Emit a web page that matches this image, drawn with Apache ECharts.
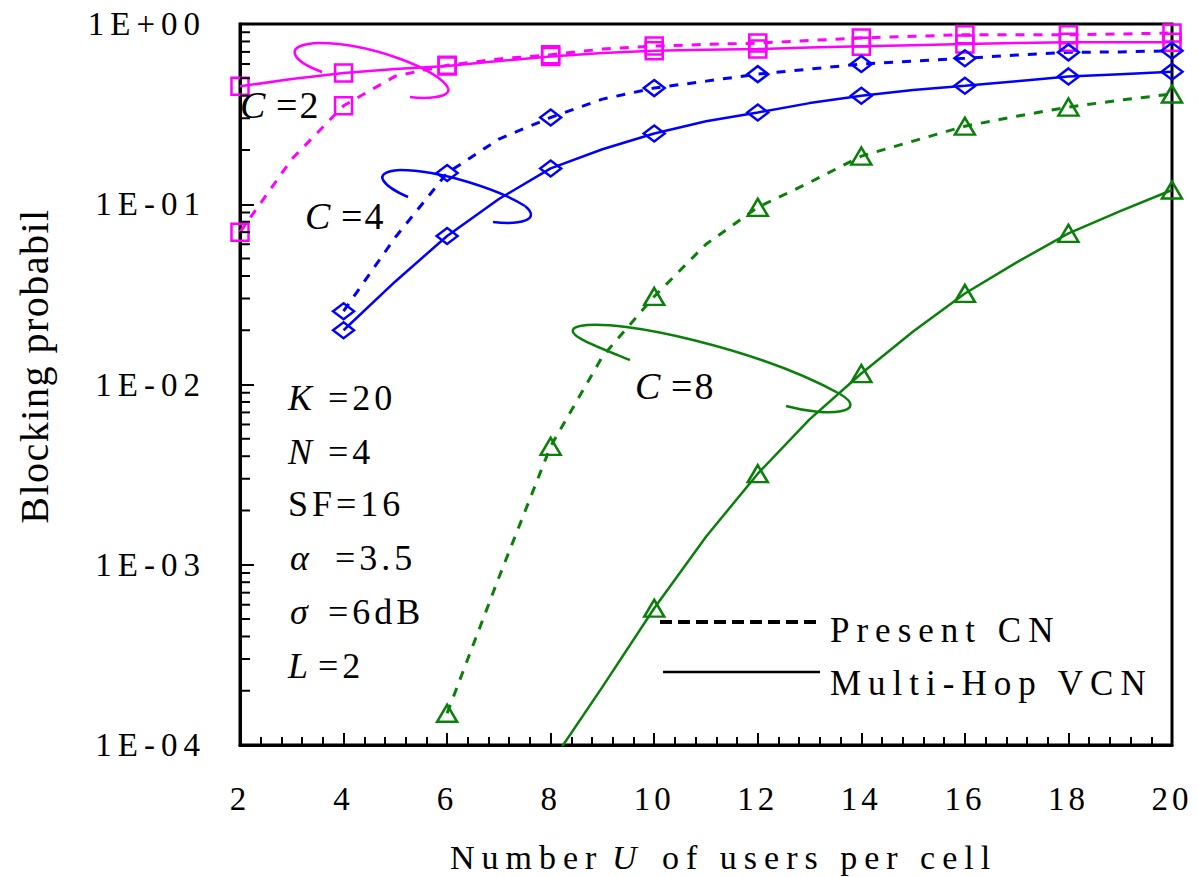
<!DOCTYPE html>
<html><head><meta charset="utf-8">
<script src="https://cdn.jsdelivr.net/npm/echarts@6/dist/echarts.min.js"></script>
<style>
html,body{margin:0;padding:0;background:#fff;}
#c{width:1198px;height:877px;}
#c text[style*="lspA"]{letter-spacing:6px;}
#c text[style*="lspB"]{letter-spacing:4px;}
#c text[style*="lspC"]{letter-spacing:7px;}
#c text[style*="lspD"]{letter-spacing:7px;}
#c text[style*="lspE"]{letter-spacing:2px;}
#c text[style*="lspF"]{letter-spacing:1.5px;}
</style>
</head><body><div id="c"></div>
<script>
// x values: number of users per cell
const users = [2,3,4,5,6,7,8,9,10,11,12,13,14,15,16,17,18,19,20];
const xTicks = [2,4,6,8,10,12,14,16,18,20];
// C = 2
const c2Present  = [0.07,0.178,0.352,0.514,0.59,0.64,0.675,0.726,0.755,0.77,0.784,0.81,0.836,0.855,0.872,0.872,0.872,0.88,0.891];
const c2MultiHop = [0.451,0.495,0.534,0.562,0.585,0.623,0.661,0.69,0.71,0.72,0.726,0.74,0.752,0.763,0.774,0.785,0.791,0.791,0.791];
// C = 4
const c4Present  = [null,null,0.0255,0.0656,0.149,0.23,0.303,0.383,0.441,0.482,0.527,0.562,0.6,0.623,0.645,0.673,0.696,0.70,0.711];
const c4MultiHop = [null,null,0.02,0.0373,0.0667,0.107,0.158,0.202,0.247,0.289,0.323,0.364,0.4,0.43,0.454,0.482,0.512,0.527,0.543];
// C = 8
const c8Present  = [null,null,null,null,1.5e-4,8.5e-4,4.54e-3,0.0143,0.0308,0.06,0.0962,0.132,0.185,0.224,0.271,0.308,0.346,0.378,0.409];
const c8MultiHop = [null,null,null,null,null,null,7.9e-5,2.1e-4,5.74e-4,1.43e-3,3.2e-3,6.4e-3,0.0115,0.0197,0.032,0.0476,0.069,0.0915,0.12];
// y axis range and minor ticks (2..9 x 10^k)
const yMin = 1e-4, yMax = 1;
const yMinorTicks = [];
for (let e = -4; e < 0; e++) for (let m = 2; m <= 9; m++) yMinorTicks.push(m * Math.pow(10, e));

const MAG = '#ff00ff', BLUE = '#0000ff', GREEN = '#0a800a';
const LS = (k) => "'Liberation Serif', " + k;

function pairs(arr){ return users.map((u,i)=>[u,arr[i]]).filter(p=>p[1]!=null); }

function mk(name, arr, color, dashed, symbol, size, lw){
  return {
    name, type:'line', data: pairs(arr), clip: true,
    symbol,
    symbolSize: (v)=> (v[0] % 2 === 0 && v[1] >= yMin) ? size : 0,
    showAllSymbol: true,
    lineStyle: {color, width: lw, type: dashed ? [9,9] : 'solid'},
    itemStyle: {color: 'rgba(0,0,0,0)', borderColor: color, borderWidth: 2.5},
    emphasis: {disabled: true},
    z: 3
  };
}
function txt(x, y, text, size, fam, italic){
  return {type:'text', x, y, style:{text, fontSize:size, fontFamily:fam, fontStyle: italic ? 'italic' : 'normal', fill:'#000', align:'left', verticalAlign:'middle'}};
}
function bez(p, color){
  // p: [x1,y1,cx1,cy1,cx2,cy2,x2,y2]
  return {type:'bezierCurve', shape:{x1:p[0], y1:p[1], cpx1:p[2], cpy1:p[3], cpx2:p[4], cpy2:p[5], x2:p[6], y2:p[7]}, style:{fill:null, stroke:color, lineWidth:2.5}};
}

const chart = echarts.init(document.getElementById('c'), null, {renderer:'svg'});
const option = {
  animation: false,
  backgroundColor: '#fff',
  grid: {left:240, right:26, top:24, bottom:132, show:true, borderColor:'#000', borderWidth:3, backgroundColor:'rgba(0,0,0,0)'},
  xAxis: {
    type:'value', min:2, max:20, interval:2,
    axisLine:{show:true, lineStyle:{color:'#000', width:3}},
    axisTick:{show:true, inside:true, length:12, lineStyle:{color:'#000', width:2}},
    minorTick:{show:true, splitNumber:5, length:8, lineStyle:{color:'#000', width:2}},
    splitLine:{show:false},
    axisLabel:{color:'#000', fontSize:33, fontFamily:LS('lspB'), margin:37,
      formatter:(v)=> xTicks.includes(v) ? String(v) : ''}
  },
  yAxis: {
    type:'log', logBase:10, min:yMin, max:yMax,
    axisLine:{show:true, lineStyle:{color:'#000', width:3}},
    axisTick:{show:true, inside:true, length:14, lineStyle:{color:'#000', width:2}},
    splitLine:{show:false},
    axisLabel:{color:'#000', fontSize:33, fontFamily:LS('lspA'), margin:34,
      formatter:(v)=>{ const e = Math.round(Math.log10(v)); return '1E' + (e<0?'-':'+') + String(Math.abs(e)).padStart(2,'0'); }}
  },
  series: [
    mk('C=2 Present CN', c2Present, MAG, true, 'rect', 17, 3),
    mk('C=2 Multi-Hop VCN', c2MultiHop, MAG, false, 'rect', 17, 2.5),
    mk('C=4 Present CN', c4Present, BLUE, true, 'diamond', [21,16], 3),
    mk('C=4 Multi-Hop VCN', c4MultiHop, BLUE, false, 'diamond', [21,16], 2.5),
    mk('C=8 Present CN', c8Present, GREEN, true, 'triangle', [20,17], 3),
    mk('C=8 Multi-Hop VCN', c8MultiHop, GREEN, false, 'triangle', [20,17], 2.5),
    {
      type:'custom', data: yMinorTicks.map(v=>[2, v]), clip:false, z:5, silent:true,
      renderItem:(params, api)=>{
        const p = api.coord([api.value(0), api.value(1)]);
        return {type:'line', shape:{x1:p[0], y1:p[1], x2:p[0]+10, y2:p[1]}, style:{stroke:'#000', lineWidth:2}};
      }
    }
  ],
  graphic: [
    // y title
    {type:'text', x:34, y:366, rotation:Math.PI/2, style:{text:'Blocking probabil', fontSize:40, fontFamily:LS('lspF'), fill:'#000', align:'center', verticalAlign:'middle'}},
    // x title
    txt(450, 857, 'Number', 34, LS('lspD'), false),
    txt(612, 857, 'U', 34, LS('lspD'), true),
    txt(662, 857, 'of users per cell', 34, LS('lspD'), false),
    // curve group labels
    txt(240, 105, 'C', 38, LS('plain'), true), txt(276, 105, '=2', 38, LS('lspE'), false),
    txt(305, 216, 'C', 38, LS('plain'), true), txt(341, 216, '=4', 38, LS('lspE'), false),
    txt(635, 386, 'C', 38, LS('plain'), true), txt(671, 386, '=8', 38, LS('lspE'), false),
    // loops
    bez([322,72, 290,60, 282,44, 320,43], MAG), bez([320,43, 370,43, 440,70, 448,88], MAG), bez([448,88, 452,98, 425,99, 410,97], MAG),
    bez([408,197, 385,187, 368,172, 400,170], BLUE), bez([400,170, 440,170, 500,190, 525,206], BLUE), bez([525,206, 542,220, 520,225, 493,222], BLUE),
    bez([630,360, 600,348, 555,332, 580,326], GREEN), bez([580,326, 620,318, 760,350, 840,394], GREEN), bez([840,394, 870,412, 830,418, 786,406], GREEN),
    // parameters
    txt(288, 398, 'K', 36, LS('plain'), true), txt(328, 398, '=20', 36, LS('lspB'), false),
    txt(288, 452, 'N', 36, LS('plain'), true), txt(328, 452, '=4', 36, LS('lspB'), false),
    txt(288, 504, 'SF=16', 36, LS('lspB'), false),
    txt(290, 558, 'α', 36, LS('plain'), true), txt(335, 558, '=3.5', 36, LS('lspB'), false),
    txt(290, 612, 'σ', 36, LS('plain'), true), txt(328, 612, '=6dB', 36, LS('lspB'), false),
    txt(288, 666, 'L', 36, LS('plain'), true), txt(318, 666, '=2', 36, LS('lspB'), false),
    // legend
    {type:'line', shape:{x1:660, y1:622, x2:820, y2:622}, style:{stroke:'#000', lineWidth:4, lineDash:[12,6]}},
    {type:'line', shape:{x1:663, y1:672, x2:820, y2:672}, style:{stroke:'#000', lineWidth:2.5}},
    txt(830, 630, 'Present CN', 35, LS('lspC'), false),
    txt(830, 683, 'Multi-Hop VCN', 35, LS('lspC'), false)
  ]
};
chart.setOption(option);
</script>
</body></html>
